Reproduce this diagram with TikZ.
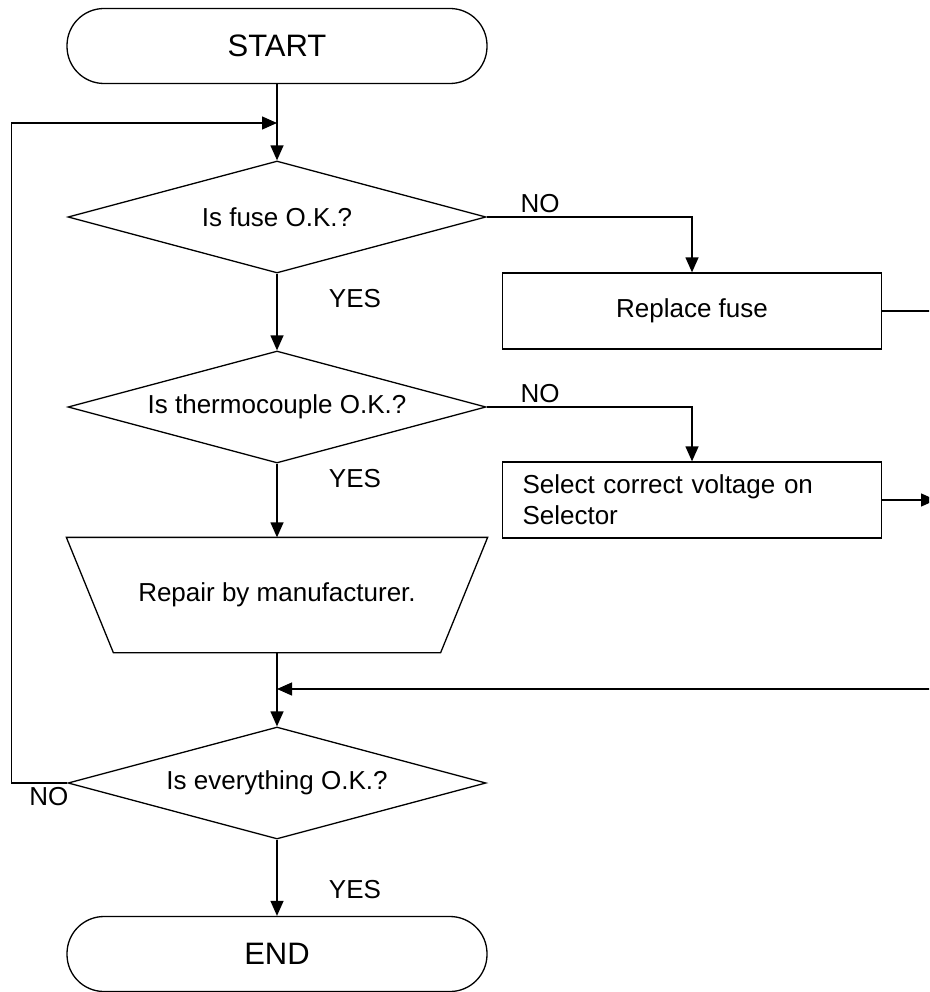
\documentclass[tikz,border=0pt]{standalone}
\usepackage{fontspec}
\setmainfont{Liberation Sans}
\usetikzlibrary{shapes.geometric,arrows.meta,positioning}

\begin{document}
\begin{tikzpicture}[x=1pt,y=-1pt,line width=1.3pt,
    font=\fontsize{26}{31}\selectfont,
    arr/.style={-{Triangle[length=15pt,width=13pt]}},
    term/.style={draw,rounded corners=37pt,minimum width=420pt,minimum height=75pt,font=\fontsize{31}{36}\selectfont},
    decide/.style={draw,diamond,aspect=3.73,inner sep=0pt,minimum width=418pt,minimum height=112pt},
    proc/.style={draw,rectangle,minimum width=379pt,minimum height=76pt},
    manual/.style={rectangle,minimum width=420pt,minimum height=114pt}]

\useasboundingbox (0,0) rectangle (929,992);
\clip (0,0) rectangle (929,992);

   \node[term] at (277,46)  (start) {START};
   \node[decide] at (277,217)  (q1) {Is fuse O.K.?};
   \node[proc] at (692,311)  (fuse) {Replace fuse};
   \node[decide] at (277,407)  (q2) {Is thermocouple O.K.?};
   \node[proc,text width=339pt,align=left,inner xsep=20pt] at (692,500)  (volt) {Select correct voltage on\\Selector};
   \node[manual] at (277,595)  (repair) {Repair by manufacturer.};
   \node[decide] at (277,783)  (q3) {Is everything O.K.?};
   \node[term] at (277,954)  (end) {END};

   % manual operation outline
   \draw (repair.north west) -- (repair.north east) -- ([xshift=-47pt]repair.south east)
        -- ([xshift=47pt]repair.south west) -- cycle;

   \coordinate (top) at (277,123);
   \coordinate (mrg) at (277,689);
   \coordinate (rt1) at (936,311);
   \coordinate (rtv) at (936,500);
   \coordinate (rt2) at (936,689);

    \draw[arr] (start) -- (q1);
    \draw[arr] (q1) -- (q2) node[pos=.33,right=48pt] {YES};
    \draw[arr] (q2) -- (repair) node[pos=.2,right=48pt] {YES};
    \draw[arr] (repair) -- (q3);
    \draw[arr] (q3) -- (end) node[pos=.65,right=48pt] {YES};

    \draw[arr] (q1.east) -| (fuse.north) node[pos=.13,above] {NO};
    \draw[arr] (q2.east) -| (volt.north) node[pos=.13,above] {NO};

    \draw (fuse.east) -- (rt1) -- (rt2);
    \draw[arr] (volt.east) -- (rtv);
    \draw[arr] (rt2) -- (mrg);

    \draw[arr] (q3.west) -- ++(-56,0) node[pos=.33,below] {NO} |- (top);

    \end{tikzpicture}
\end{document}
